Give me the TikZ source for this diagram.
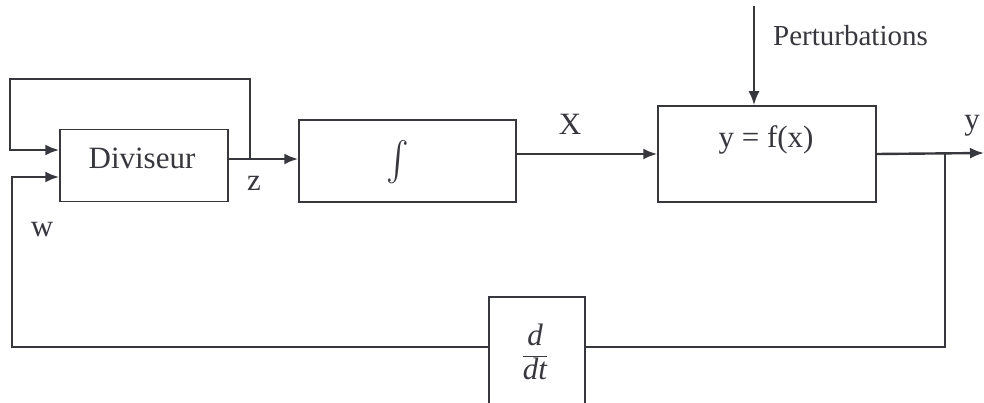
\documentclass[tikz,border=0pt]{standalone}
\usepackage{fontspec}
\setmainfont{Liberation Serif}
\usetikzlibrary{arrows.meta}
\definecolor{ink}{RGB}{55,55,62}
\begin{document}
\begin{tikzpicture}[x=1pt,y=1pt,
  blk/.style={draw=ink,line width=1.5pt,minimum width=#1,inner sep=0pt},
  wire/.style={draw=ink,line width=2.4pt},
  arr/.style={wire,-{Latex[length=14pt,width=11pt]}},
  txt/.style={text=ink,font=\fontsize{31}{36}\selectfont,inner sep=0pt}]
\useasboundingbox (0,0) rectangle (984,-403);
\clip (0,0) rectangle (984,-403);
\fill[white] (0,0) rectangle (984,-403);
% blocks
\node[blk=168pt,minimum height=72pt] (div) at (144,-165.5) {};
\node[txt] (divt) at (142,-158) {Diviseur};
\node[blk=217pt,minimum height=82pt] (int) at (407.5,-161) {};
\node[text=ink,inner sep=0pt,xscale=3.4,yscale=3.9] (intt) at (398,-162) {$\int$};
\node[blk=218pt,minimum height=96pt] (fbox) at (767,-154) {};
\node[txt] (ft) at (766,-140) {y = f(x)};
\node[blk=96pt,minimum height=123pt] (ddt) at (537,-358.5) {};
\node[txt] (ddtt) at (535,-352) {$\displaystyle\frac{\textit{d}}{\textit{dt}}$};
% coordinates
\coordinate (zsplit) at (250,-159);
\coordinate (tl) at (10,-79);
\coordinate (ysplit) at (945,-153);
\coordinate (yout) at (984,-153);
\coordinate (pert) at (754,-6);
\coordinate (bl) at (12,-347);
% connectors
\draw[arr] (div.east |- zsplit) -- (int.west |- zsplit);
\draw[arr] (zsplit) |- (tl) |- (div.west |- 0,-150);
\draw[arr] (int.east |- fbox.west) -- (fbox.west);
\draw[arr] (fbox.east) -- (yout);
\draw[arr] (pert) -- (pert |- fbox.north);
\draw[wire] (ysplit) |- (ddt.east |- 0,-347);
\draw[arr] (ddt.west |- 0,-347) -| (bl |- 0,-177) -- (div.west |- 0,-177);
% labels
\node[txt] (zl) at (254,-183) {z};
\node[txt] (wl) at (42,-230) {w};
\node[txt] (xl) at (570,-124) {X};
\node[txt] (yl) at (972,-126) {y};
\node[txt,anchor=west,font=\fontsize{29}{34}\selectfont] (pl) at (773,-36) {Perturbations};
\end{tikzpicture}
\end{document}
